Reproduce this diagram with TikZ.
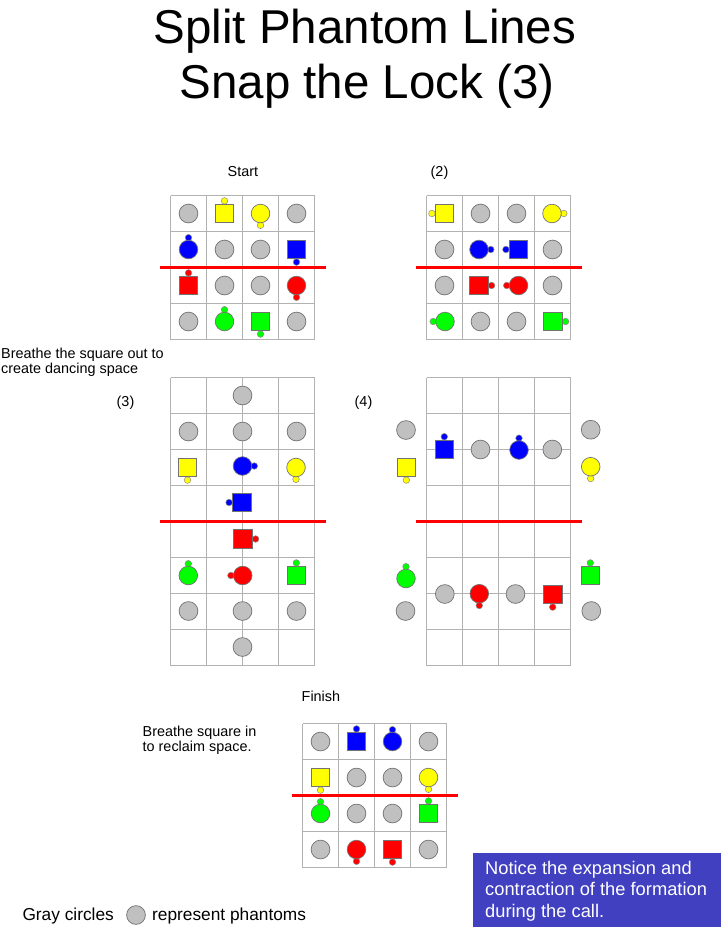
\documentclass[tikz,border=0pt]{standalone}
\usepackage{fontspec}
\setmainfont{Liberation Sans}
\definecolor{dyel}{RGB}{255,255,0}
\definecolor{dblu}{RGB}{0,0,255}
\definecolor{dred}{RGB}{255,0,0}
\definecolor{dgrn}{RGB}{0,255,0}
\definecolor{phgray}{RGB}{192,192,192}
\definecolor{gridc}{RGB}{178,178,178}
\definecolor{boxblue}{RGB}{64,64,192}
\tikzset{
  gridl/.style={draw=gridc,line width=0.9pt},
  redline/.style={draw=dred,line width=2.4pt},
  body/.style={draw=black!55,line width=0.7pt},
  nose/.style={draw=black!45,line width=0.5pt},
  lbl/.style={anchor=base west,inner sep=0pt,font=\fontsize{14.4}{16}\selectfont},
}
% cell grid: x0, y0, rows
\newcommand\gridbox[3]{%
  \foreach \i in {0,...,4}{\draw[gridl] ({#1+36*\i},#2) -- ({#1+36*\i},{#2+36*#3});}
  \foreach \j in {0,...,#3}{\draw[gridl] (#1,{#2+36*\j}) -- ({#1+144},{#2+36*\j});}
}
% phantom: x, y
\newcommand\ph[2]{\filldraw[body,fill=phgray] (#1,#2) circle (9.4);}
% circle dancer: colour, x, y, nose dx, nose dy
\newcommand\dcir[5]{%
  \filldraw[nose,fill=#1] ({#2+(#4)*11.8},{#3+(#5)*11.8}) circle (3.3);
  \filldraw[body,fill=#1] (#2,#3) circle (9.3);}
% square dancer
\newcommand\dsq[5]{%
  \filldraw[nose,fill=#1] ({#2+(#4)*12.6},{#3+(#5)*12.6}) circle (3.3);
  \filldraw[body,fill=#1] ({#2-9.3},{#3-9.3}) rectangle ({#2+9.3},{#3+9.3});}
\begin{document}
\begin{tikzpicture}[x=1pt,y=-1pt]
\useasboundingbox (0,0) rectangle (721,948);
\fill[white] (0,0) rectangle (721,948);
% title
\node[anchor=base,inner sep=0pt,font=\fontsize{47.5}{54}\selectfont] (t1) at (365,43.5) {Split Phantom Lines};
\node[anchor=base,inner sep=0pt,font=\fontsize{47.5}{54}\selectfont] (t2) at (367,98.5) {Snap the Lock (3)};
% labels
\node[lbl] (lstart) at (227.5,176) {Start};
\node[lbl] (l2) at (430.5,176) {(2)};
\node[lbl] (lbr1) at (1,358.3) {Breathe the square out to};
\node[lbl] (lbr2) at (1,373.8) {create dancing space};
\node[lbl] (l3) at (116.5,406.5) {(3)};
\node[lbl] (l4) at (354.5,406.5) {(4)};
\node[lbl] (lfin) at (301.5,701.7) {Finish};
\node[lbl] (lbi1) at (142.5,736) {Breathe square in};
\node[lbl] (lbi2) at (142.5,751.5) {to reclaim space.};
% ---------- Start ----------
\gridbox{170.5}{195.5}{4}
\draw[redline] (160,267.5) -- (325.5,267.5);
\ph{188.5}{213.5} \dsq{dyel}{224.5}{213.5}{0}{-1} \dcir{dyel}{260.5}{213.5}{0}{1} \ph{296.5}{213.5}
\dcir{dblu}{188.5}{249.5}{0}{-1} \ph{224.5}{249.5} \ph{260.5}{249.5} \dsq{dblu}{296.5}{249.5}{0}{1}
\dsq{dred}{188.5}{285.5}{0}{-1} \ph{224.5}{285.5} \ph{260.5}{285.5} \dcir{dred}{296.5}{285.5}{0}{1}
\ph{188.5}{321.5} \dcir{dgrn}{224.5}{321.5}{0}{-1} \dsq{dgrn}{260.5}{321.5}{0}{1} \ph{296.5}{321.5}
% ---------- (2) ----------
\gridbox{426.5}{195.5}{4}
\draw[redline] (416,267.5) -- (581.5,267.5);
\dsq{dyel}{444.5}{213.5}{-1}{0} \ph{480.5}{213.5} \ph{516.5}{213.5} \dcir{dyel}{552}{213.5}{1}{0}
\ph{444.5}{249.5} \dcir{dblu}{479}{249.5}{1}{0} \dsq{dblu}{518.5}{249.5}{-1}{0} \ph{552.5}{249.5}
\ph{444.5}{285.5} \dsq{dred}{479}{285.5}{1}{0} \dcir{dred}{518.5}{285.5}{-1}{0} \ph{552.5}{285.5}
\dcir{dgrn}{445}{321.5}{-1}{0} \ph{480.5}{321.5} \ph{516.5}{321.5} \dsq{dgrn}{553}{321.5}{1}{0}
% ---------- (3) ----------
\gridbox{170.5}{377.5}{8}
\draw[redline] (160,521.5) -- (325.5,521.5);
\ph{242.5}{395.5}
\ph{188.5}{431.5} \ph{242.5}{431.5} \ph{296.5}{431.5}
\dsq{dyel}{187.5}{467.5}{0}{1} \dcir{dblu}{242.5}{466}{1}{0} \dcir{dyel}{296}{467.5}{0}{1}
\dsq{dblu}{241.7}{502.5}{-1}{0}
\dsq{dred}{243}{539}{1}{0}
\dcir{dgrn}{188.3}{575.5}{0}{-1} \dcir{dred}{242.7}{575.5}{-1}{0} \dsq{dgrn}{296.3}{575.5}{0}{-1}
\ph{188.5}{611} \ph{242.5}{611} \ph{296.5}{611}
\ph{242.5}{647}
% ---------- (4) ----------
\gridbox{426.5}{377.5}{8}
\draw[redline] (415.5,521.5) -- (581.5,521.5);
\ph{406}{430} \dsq{dyel}{406.3}{467.5}{0}{1}
\dsq{dblu}{444.3}{449.3}{0}{-1} \ph{480.5}{449.5} \dcir{dblu}{519}{450}{0}{-1} \ph{552.3}{449.5}
\ph{590.7}{429.7} \dcir{dyel}{590.7}{466.7}{0}{1}
\dcir{dgrn}{406}{578.5}{0}{-1} \ph{405.5}{611}
\ph{444.8}{594} \dcir{dred}{479.3}{593.7}{0}{1} \ph{515.5}{594} \dsq{dred}{552.7}{594.5}{0}{1}
\dsq{dgrn}{590.3}{575.5}{0}{-1} \ph{591.3}{611}
% ---------- Finish ----------
\gridbox{302.5}{723.5}{4}
\draw[redline] (292,795.5) -- (458,795.5);
\ph{320.5}{741.5} \dsq{dblu}{356.5}{741.5}{0}{-1} \dcir{dblu}{392.5}{741.5}{0}{-1} \ph{428.5}{741.5}
\dsq{dyel}{320.5}{777.5}{0}{1} \ph{356.5}{777.5} \ph{392.5}{777.5} \dcir{dyel}{428.5}{777.5}{0}{1}
\dcir{dgrn}{320.5}{813.5}{0}{-1} \ph{356.5}{813.5} \ph{392.5}{813.5} \dsq{dgrn}{428.5}{813.5}{0}{-1}
\ph{320.5}{849.5} \dcir{dred}{356.5}{849.5}{0}{1} \dsq{dred}{392.5}{849.5}{0}{1} \ph{428.5}{849.5}
% ---------- note box ----------
\fill[boxblue] (472.7,852.7) rectangle (721,926.7);
\node[anchor=base west,inner sep=0pt,text=white,font=\fontsize{18.3}{21.5}\selectfont] (n1) at (485,874) {Notice the expansion and};
\node[anchor=base west,inner sep=0pt,text=white,font=\fontsize{18.3}{21.5}\selectfont] (n2) at (485,895.5) {contraction of the formation};
\node[anchor=base west,inner sep=0pt,text=white,font=\fontsize{18.3}{21.5}\selectfont] (n3) at (485,917) {during the call.};
% ---------- legend ----------
\node[anchor=base west,inner sep=0pt,font=\fontsize{17.3}{20}\selectfont] (g1) at (22.3,920) {Gray circles};
\ph{136}{915}
\node[anchor=base west,inner sep=0pt,font=\fontsize{17.3}{20}\selectfont] (g2) at (152,920) {represent phantoms};
\end{tikzpicture}
\end{document}
